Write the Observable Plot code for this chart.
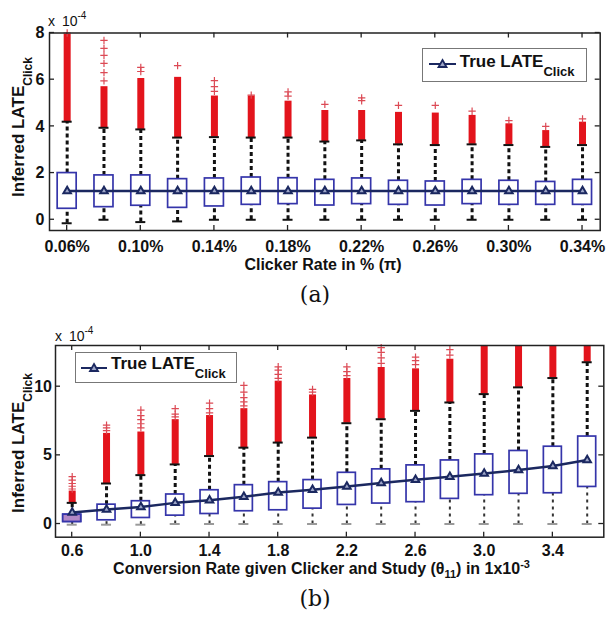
<!DOCTYPE html>
<html><head><meta charset="utf-8">
<script src="https://cdn.jsdelivr.net/npm/d3@7"></script>
<script src="https://cdn.jsdelivr.net/npm/@observablehq/plot@0.6"></script>
<style>
html,body{margin:0;padding:0;background:#fff;}
#root{position:relative;width:610px;height:618px;overflow:hidden;background:#fff;font-family:"Liberation Sans",Arial,sans-serif;color:#111;}
.panel{position:absolute;left:0;width:610px;}
.panel svg{position:absolute;left:0;top:0;}
.abs{position:absolute;white-space:nowrap;}
.exp{font-size:14px;line-height:14px;word-spacing:3px;}
.exp sup{font-size:10px;line-height:0;position:relative;top:-1px;}
.ylab{font-size:17px;font-weight:bold;line-height:18px;transform:translate(-50%,-50%) rotate(-90deg);}
.ylab .sub{font-size:12px;position:relative;top:8px;}
.xlab{font-size:16px;font-weight:bold;line-height:16px;transform:translateX(-50%);}
.xlab sub{font-size:11px;line-height:0;}
.xlab sup{font-size:11px;line-height:0;}
.cap{font-family:"DejaVu Serif",serif;font-size:22px;line-height:22px;transform:translateX(-50%);}
.legend{position:absolute;box-sizing:border-box;border:1px solid #777;background:#fff;}
.legend .txt{position:absolute;font-size:17px;font-weight:bold;line-height:17px;white-space:nowrap;}
.legend .txt .sub{font-size:13px;position:relative;top:9px;}
.legend svg{position:absolute;}
</style></head>
<body>
<div id="root">
  <div class="panel" id="pa" style="top:0;height:280px;"></div>
  <div class="abs cap" style="left:315px;top:284px;">(a)</div>
  <div class="panel" id="pb" style="top:310px;height:276px;"></div>
  <div class="abs cap" style="left:315px;top:588px;">(b)</div>
</div>
<script>
// ---------- Panel (a): Clicker rate (%) ----------
const aRate = [0.06,0.08,0.10,0.12,0.14,0.16,0.18,0.20,0.22,0.24,0.26,0.28,0.30,0.32,0.34];
const aQ1   = [0.47,0.54,0.60,0.51,0.57,0.64,0.67,0.61,0.67,0.64,0.61,0.67,0.64,0.64,0.64];
const aQ3   = [2.00,1.90,1.90,1.74,1.77,1.81,1.78,1.71,1.77,1.67,1.64,1.71,1.67,1.62,1.71];
const aLow  = [-0.15,0,-0.10,-0.07,0,0,0,0,0,0,0,0,0,0,0];
const aHigh = [4.20,3.94,3.87,3.52,3.54,3.52,3.52,3.35,3.40,3.23,3.20,3.23,3.20,3.12,3.20];
const aDense= [7.95,5.70,6.05,6.10,5.30,5.30,5.08,4.68,4.68,4.60,4.57,4.47,4.11,3.82,4.18];
const aTrue = [1.23,1.23,1.23,1.23,1.23,1.23,1.23,1.23,1.23,1.23,1.23,1.23,1.23,1.23,1.23];
const aSparse = [[8.0],[5.95,6.3,6.7,7.04,7.34,7.68],[6.35,6.53],[6.6],[5.5,5.7,5.96],[5.34],[5.3,5.48],[4.94],[5.1,5.22],[4.9],[4.9],[4.65],[4.25],[4.0],[4.32]];
const aTicks = [0.06,0.10,0.14,0.18,0.22,0.26,0.30,0.34];
const aTickLabels = ["0.06%","0.10%","0.14%","0.18%","0.22%","0.26%","0.30%","0.34%"];
const aYTicks = [0,2,4,6,8];

// ---------- Panel (b): Conversion rate (x1e-3) ----------
const bRate = [0.6,0.8,1.0,1.2,1.4,1.6,1.8,2.0,2.2,2.4,2.6,2.8,3.0,3.2,3.4,3.6];
const bQ1   = [0.15,0.27,0.44,0.61,0.73,0.93,1.00,1.12,1.39,1.49,1.59,1.83,2.10,2.20,2.24,2.70];
const bQ3   = [0.68,1.41,1.66,2.15,2.46,2.83,3.05,3.20,3.73,3.98,4.27,4.63,5.07,5.32,5.63,6.37];
const bLow  = [-0.05,-0.05,-0.05,0,0,0,0,0,0,0,0,0,0,0,0,0];
const bHigh = [1.54,2.95,3.56,4.34,4.95,5.56,5.93,6.29,7.34,7.63,8.24,8.85,9.46,9.95,10.63,11.78];
const bDense= [2.40,6.60,6.70,7.60,7.90,8.40,10.40,9.40,10.60,11.40,11.30,12.00,13,13,13,13];
const bTrue = [0.83,1.05,1.24,1.54,1.73,1.98,2.29,2.49,2.73,2.98,3.22,3.44,3.68,3.93,4.22,4.66];
const bSparse = [[2.55,2.75,2.95,3.2,3.45],[6.8,7.0,7.2],[7.0,7.3,7.6,7.9,8.3],[7.8,8.0,8.4],[8.1,8.4,8.8],[8.6,8.9,9.2,9.6,10.1],[10.6,10.9,11.2,11.45],[9.6,9.8],[10.8,11.1,11.45],[11.7,12.1,12.5,12.85],[11.6,11.9,12.15],[12.3,12.7],[],[],[],[]];
const bTicks = [0.6,1.0,1.4,1.8,2.2,2.6,3.0,3.4];
const bTickLabels = ["0.6","1.0","1.4","1.8","2.2","2.6","3.0","3.4"];
const bYTicks = [0,5,10];

function frameTicks(xt, yt, len) {
  return (index, scales, values, dims) => {
    const {x, y} = scales;
    const L = dims.marginLeft, R = dims.width - dims.marginRight;
    const T = dims.marginTop, B = dims.height - dims.marginBottom;
    const g = d3.create("svg:g").attr("stroke", "#222").attr("stroke-width", 1.3);
    for (const t of xt) {
      const p = x(t);
      g.append("line").attr("x1", p).attr("x2", p).attr("y1", B).attr("y2", B - len);
      g.append("line").attr("x1", p).attr("x2", p).attr("y1", T).attr("y2", T + len);
    }
    for (const t of yt) {
      const p = y(t);
      g.append("line").attr("y1", p).attr("y2", p).attr("x1", L).attr("x2", L + len);
      g.append("line").attr("y1", p).attr("y2", p).attr("x1", R).attr("x2", R - len);
    }
    return g.node();
  };
}

function panel(c) {
  const rows = c.x.map((x, i) => ({x, q1: c.q1[i], q3: c.q3[i], lo: c.lo[i], hi: c.hi[i], top: c.dense[i], t: c.t[i]}));
  const out = c.sparse.flatMap((arr, i) => arr.map(y => ({x: c.x[i], y})));
  const hb = c.boxW / 2;
  const marks = [
    frameTicks(c.xTicks, c.yTicks, 5),
    Plot.ruleX(rows, {x: "x", y1: "q3", y2: "hi", stroke: "#111", strokeWidth: 3, strokeDasharray: "4,3"}),
    Plot.ruleX(rows, {x: "x", y1: "lo", y2: "q1", stroke: c.loStroke, strokeWidth: c.loWidth, strokeDasharray: c.loDash}),
    Plot.ruleX(rows, {x: "x", y1: "hi", y2: "top", stroke: "#e3141c", strokeWidth: 7}),
    Plot.dot(out, {x: "x", y: "y", symbol: "plus", stroke: "#dc4a55", r: 2.5, strokeWidth: 1.2}),
    Plot.ruleY(rows, {x1: "x", x2: "x", y: "hi", stroke: "#111", strokeWidth: 2, insetLeft: -5, insetRight: -5}),
    Plot.ruleY(rows, {x1: "x", x2: "x", y: "lo", stroke: c.capStroke, strokeWidth: 2, insetLeft: -5, insetRight: -5}),
    Plot.rect(rows, {x1: "x", x2: "x", y1: "q1", y2: "q3", fill: "white", stroke: "#3535aa", strokeWidth: 1.7, insetLeft: -hb, insetRight: -hb})
  ];
  if (c.firstFill) marks.push(Plot.rect(rows.slice(0, 1), {x1: "x", x2: "x", y1: "q1", y2: "q3", fill: c.firstFill, stroke: "#3535aa", strokeWidth: 1.7, insetLeft: -hb, insetRight: -hb}));
  marks.push(
    Plot.line(rows, {x: "x", y: "t", stroke: "#1b2860", strokeWidth: 2.5}),
    Plot.dot(rows, {x: "x", y: "t", symbol: "triangle", r: 2.8, fill: "#9ea6c8", stroke: "#1b2860", strokeWidth: 2}),
    Plot.frame({stroke: "#222", strokeWidth: 1.5})
  );
  return Plot.plot({
    width: 610, height: c.height,
    marginLeft: c.mL, marginRight: c.mR, marginTop: c.mT, marginBottom: c.mB,
    style: "font-family:'Liberation Sans',Arial,sans-serif;font-size:16px;font-weight:bold;color:#111;background:transparent;",
    x: {domain: c.xDomain, ticks: c.xTicks, tickFormat: d => c.xLabels[c.xTicks.indexOf(d)], tickSize: 0, tickPadding: c.xPad, label: null},
    y: {domain: c.yDomain, ticks: c.yTicks, tickSize: 0, tickPadding: c.yPad, label: null},
    marks
  });
}

const pa = document.getElementById("pa");
pa.appendChild(panel({
  x: aRate, q1: aQ1, q3: aQ3, lo: aLow, hi: aHigh, dense: aDense, t: aTrue, sparse: aSparse,
  xTicks: aTicks, xLabels: aTickLabels, yTicks: aYTicks,
  height: 267, mL: 49, mR: 10.3, mT: 32.5, mB: 37,
  xDomain: [0.0504, 0.3496], yDomain: [-0.46, 8], xPad: 10, yPad: 5,
  boxW: 19, loStroke: "#111", loWidth: 3, loDash: "4,3", capStroke: "#111"
}));
pa.insertAdjacentHTML("beforeend", `
  <div class="abs exp" style="left:48px;top:14px;">x 10<sup>-4</sup></div>
  <div class="abs ylab" style="left:19px;top:126.5px;">Inferred LATE<span class="sub">Click</span></div>
  <div class="abs xlab" style="left:323px;top:257px;">Clicker Rate in % (π)</div>
  <div class="legend" style="left:421.7px;top:48.3px;width:165px;height:33.4px;">
    <svg width="32" height="14" style="left:5px;top:8px;"><line x1="1" x2="28" y1="7" y2="7" stroke="#1b2860" stroke-width="2"/><polygon points="14.5,3 18.5,10 10.5,10" fill="#9ea6c8" stroke="#1b2860" stroke-width="1.8"/></svg>
    <div class="txt" style="left:37px;top:3.5px;">True LATE<span class="sub">Click</span></div>
  </div>`);

const pb = document.getElementById("pb");
pb.appendChild(panel({
  x: bRate, q1: bQ1, q3: bQ3, lo: bLow, hi: bHigh, dense: bDense, t: bTrue, sparse: bSparse,
  xTicks: bTicks, xLabels: bTickLabels, yTicks: bYTicks,
  height: 268, mL: 55, mR: 6.7, mT: 35, mB: 41.3,
  xDomain: [0.5027, 3.6967], yDomain: [-0.96, 13], xPad: 7.5, yPad: 3.5,
  boxW: 18, loStroke: "#333", loWidth: 2, loDash: "3,4", capStroke: "#9a9a9a", firstFill: "#b388c6"
}));
pb.insertAdjacentHTML("beforeend", `
  <div class="abs exp" style="left:55px;top:19px;">x 10<sup>-4</sup></div>
  <div class="abs ylab" style="left:19px;top:132.5px;">Inferred LATE<span class="sub">Click</span></div>
  <div class="abs xlab" style="left:321.5px;top:251px;">Conversion Rate given Clicker and Study (θ<sub>11</sub>) in 1x10<sup>-3</sup></div>
  <div class="legend" style="left:75px;top:42.3px;width:162.3px;height:31px;">
    <svg width="32" height="14" style="left:4px;top:8px;"><line x1="1" x2="27" y1="7" y2="7" stroke="#1b2860" stroke-width="2"/><polygon points="14,3 18,10 10,10" fill="#9ea6c8" stroke="#1b2860" stroke-width="1.8"/></svg>
    <div class="txt" style="left:35px;top:2px;">True LATE<span class="sub">Click</span></div>
  </div>`);
</script>
</body></html>
